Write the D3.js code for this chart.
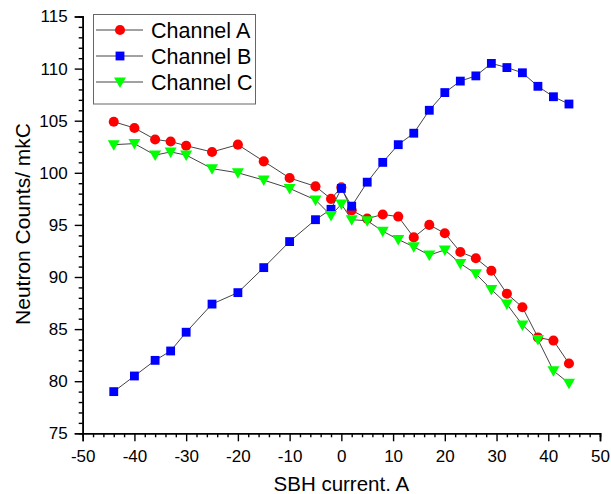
<!DOCTYPE html>
<html>
<head>
<meta charset="utf-8">
<script src="https://cdn.jsdelivr.net/npm/d3@7"></script>
<style>
  html, body { margin: 0; padding: 0; background: #fff; }
  svg { display: block; font-family: "Liberation Sans", Arial, sans-serif; }
</style>
</head>
<body>
<svg id="chart" width="611" height="494"></svg>
<script>
// SBH current (A) at each measurement
const current = [-44, -40, -36, -33, -30, -25, -20, -15, -10, -5, -2, 0, 2, 5, 8, 11, 14, 17, 20, 23, 26, 29, 32, 35, 38, 41, 44];

// Neutron counts per mkC for each channel
const channelA = [104.9, 104.3, 103.2, 103.0, 102.6, 102.0, 102.7, 101.1, 99.5, 98.7, 97.5, 98.6, 96.4, 95.6, 96.0, 95.8, 93.8, 95.0, 94.2, 92.4, 91.8, 90.6, 88.4, 87.1, 84.2, 83.9, 81.7];
const channelB = [79.0, 80.5, 82.0, 82.9, 84.7, 87.4, 88.5, 90.9, 93.4, 95.5, 96.5, 98.5, 96.8, 99.1, 101.0, 102.7, 103.8, 106.0, 107.7, 108.8, 109.3, 110.5, 110.1, 109.6, 108.3, 107.3, 106.6];
const channelC = [102.7, 102.8, 101.7, 102.0, 101.7, 100.4, 100.0, 99.3, 98.5, 97.4, 95.9, 97.0, 95.5, 95.4, 94.4, 93.6, 92.9, 92.1, 92.6, 91.3, 90.3, 88.8, 87.4, 85.4, 84.0, 81.0, 79.8];

const seriesNames = ["Channel A", "Channel B", "Channel C"];
const xTicks = [-50, -40, -30, -20, -10, 0, 10, 20, 30, 40, 50];
const yTicks = [75, 80, 85, 90, 95, 100, 105, 110, 115];

const series = [
  { name: seriesNames[0], values: channelA, color: "#ff0000", symbol: d3.symbolCircle, size: 80 },
  { name: seriesNames[1], values: channelB, color: "#0000ff", symbol: d3.symbolSquare, size: 78 },
  { name: seriesNames[2], values: channelC, color: "#00ff00", symbol: "triDown", size: 0 }
];

const svg = d3.select("#chart");
const x = d3.scaleLinear().domain([-50, 50]).range([82.7, 600]);
const y = d3.scaleLinear().domain([75, 115]).range([433.3, 16.5]);

// plain hyphen for negative tick labels
const plainLabel = d => String(d);

// downward-pointing triangle marker
function triDownPath(cx, cy) {
  const w = 6, hTop = 4.5, hBot = 6;
  return `M${cx - w},${cy - hTop}L${cx + w},${cy - hTop}L${cx},${cy + hBot}Z`;
}
function markerPath(s) {
  return d3.symbol().type(s.symbol).size(s.size)();
}

// axes: minor ticks, then major ticks with labels
const xAxis = svg.append("g").attr("transform", `translate(0,${y(75)})`);
xAxis.call(d3.axisBottom(x).tickValues(d3.range(-50, 51, 2)).tickSize(4).tickFormat(""));
xAxis.call(g => g.selectAll(".tick").filter(d => d % 10 === 0).remove());
const xMaj = svg.append("g").attr("transform", `translate(0,${y(75)})`)
  .call(d3.axisBottom(x).tickValues(xTicks).tickSize(8).tickPadding(8).tickFormat(plainLabel));

const yAxis = svg.append("g").attr("transform", `translate(${x(-50)},0)`);
yAxis.call(d3.axisLeft(y).tickValues(d3.range(75, 116, 1)).tickSize(4).tickFormat(""));
yAxis.call(g => g.selectAll(".tick").filter(d => d % 5 === 0).remove());
const yMaj = svg.append("g").attr("transform", `translate(${x(-50)},0)`)
  .call(d3.axisLeft(y).tickValues(yTicks).tickSize(8).tickPadding(7).tickFormat(plainLabel));

[xAxis, xMaj, yAxis, yMaj].forEach(g => {
  g.selectAll("path.domain").attr("stroke", "#000").attr("stroke-width", 1.6);
  g.selectAll(".tick line").attr("stroke", "#000").attr("stroke-width", 1.4);
  g.selectAll(".tick text").attr("font-size", 17).attr("fill", "#000")
    .style("font-family", '"Liberation Sans", Arial, sans-serif');
});
xMaj.selectAll(".tick text").attr("dy", "0.72em");

// axis titles
svg.append("text")
  .attr("x", x(0)).attr("y", 491)
  .attr("text-anchor", "middle").attr("font-size", 20.5).attr("fill", "#000")
  .text("SBH current. A");
svg.append("text")
  .attr("transform", `translate(30,224) rotate(-90)`)
  .attr("text-anchor", "middle").attr("font-size", 21).attr("fill", "#000")
  .text("Neutron Counts/ mkC");

// series: connecting lines then markers
const line = d3.line().x((d, i) => x(current[i])).y(d => y(d));
series.forEach(s => {
  const g = svg.append("g");
  g.append("path")
    .attr("d", line(s.values))
    .attr("fill", "none").attr("stroke", "#444").attr("stroke-width", 1);
  g.selectAll("path.m").data(s.values).join("path")
    .attr("class", "m")
    .attr("d", (d, i) => s.symbol === "triDown" ? triDownPath(x(current[i]), y(d)) : markerPath(s))
    .attr("transform", (d, i) => s.symbol === "triDown" ? null : `translate(${x(current[i])},${y(d)})`)
    .attr("fill", s.color);
});

// legend
const legend = svg.append("g");
legend.append("rect")
  .attr("x", 93.5).attr("y", 14.5).attr("width", 162).attr("height", 89.5)
  .attr("fill", "#fff").attr("stroke", "#666").attr("stroke-width", 1);
series.forEach((s, i) => {
  const cy = 30 + i * 26;
  legend.append("line")
    .attr("x1", 96).attr("x2", 143).attr("y1", cy).attr("y2", cy)
    .attr("stroke", "#444").attr("stroke-width", 1);
  legend.append("path")
    .attr("d", s.symbol === "triDown" ? triDownPath(120, cy) : markerPath(s))
    .attr("transform", s.symbol === "triDown" ? null : `translate(120,${cy})`)
    .attr("fill", s.color);
  legend.append("text")
    .attr("x", 151).attr("y", cy).attr("dy", "0.36em")
    .attr("font-size", 21.5).attr("fill", "#000")
    .text(s.name);
});
</script>
</body>
</html>
